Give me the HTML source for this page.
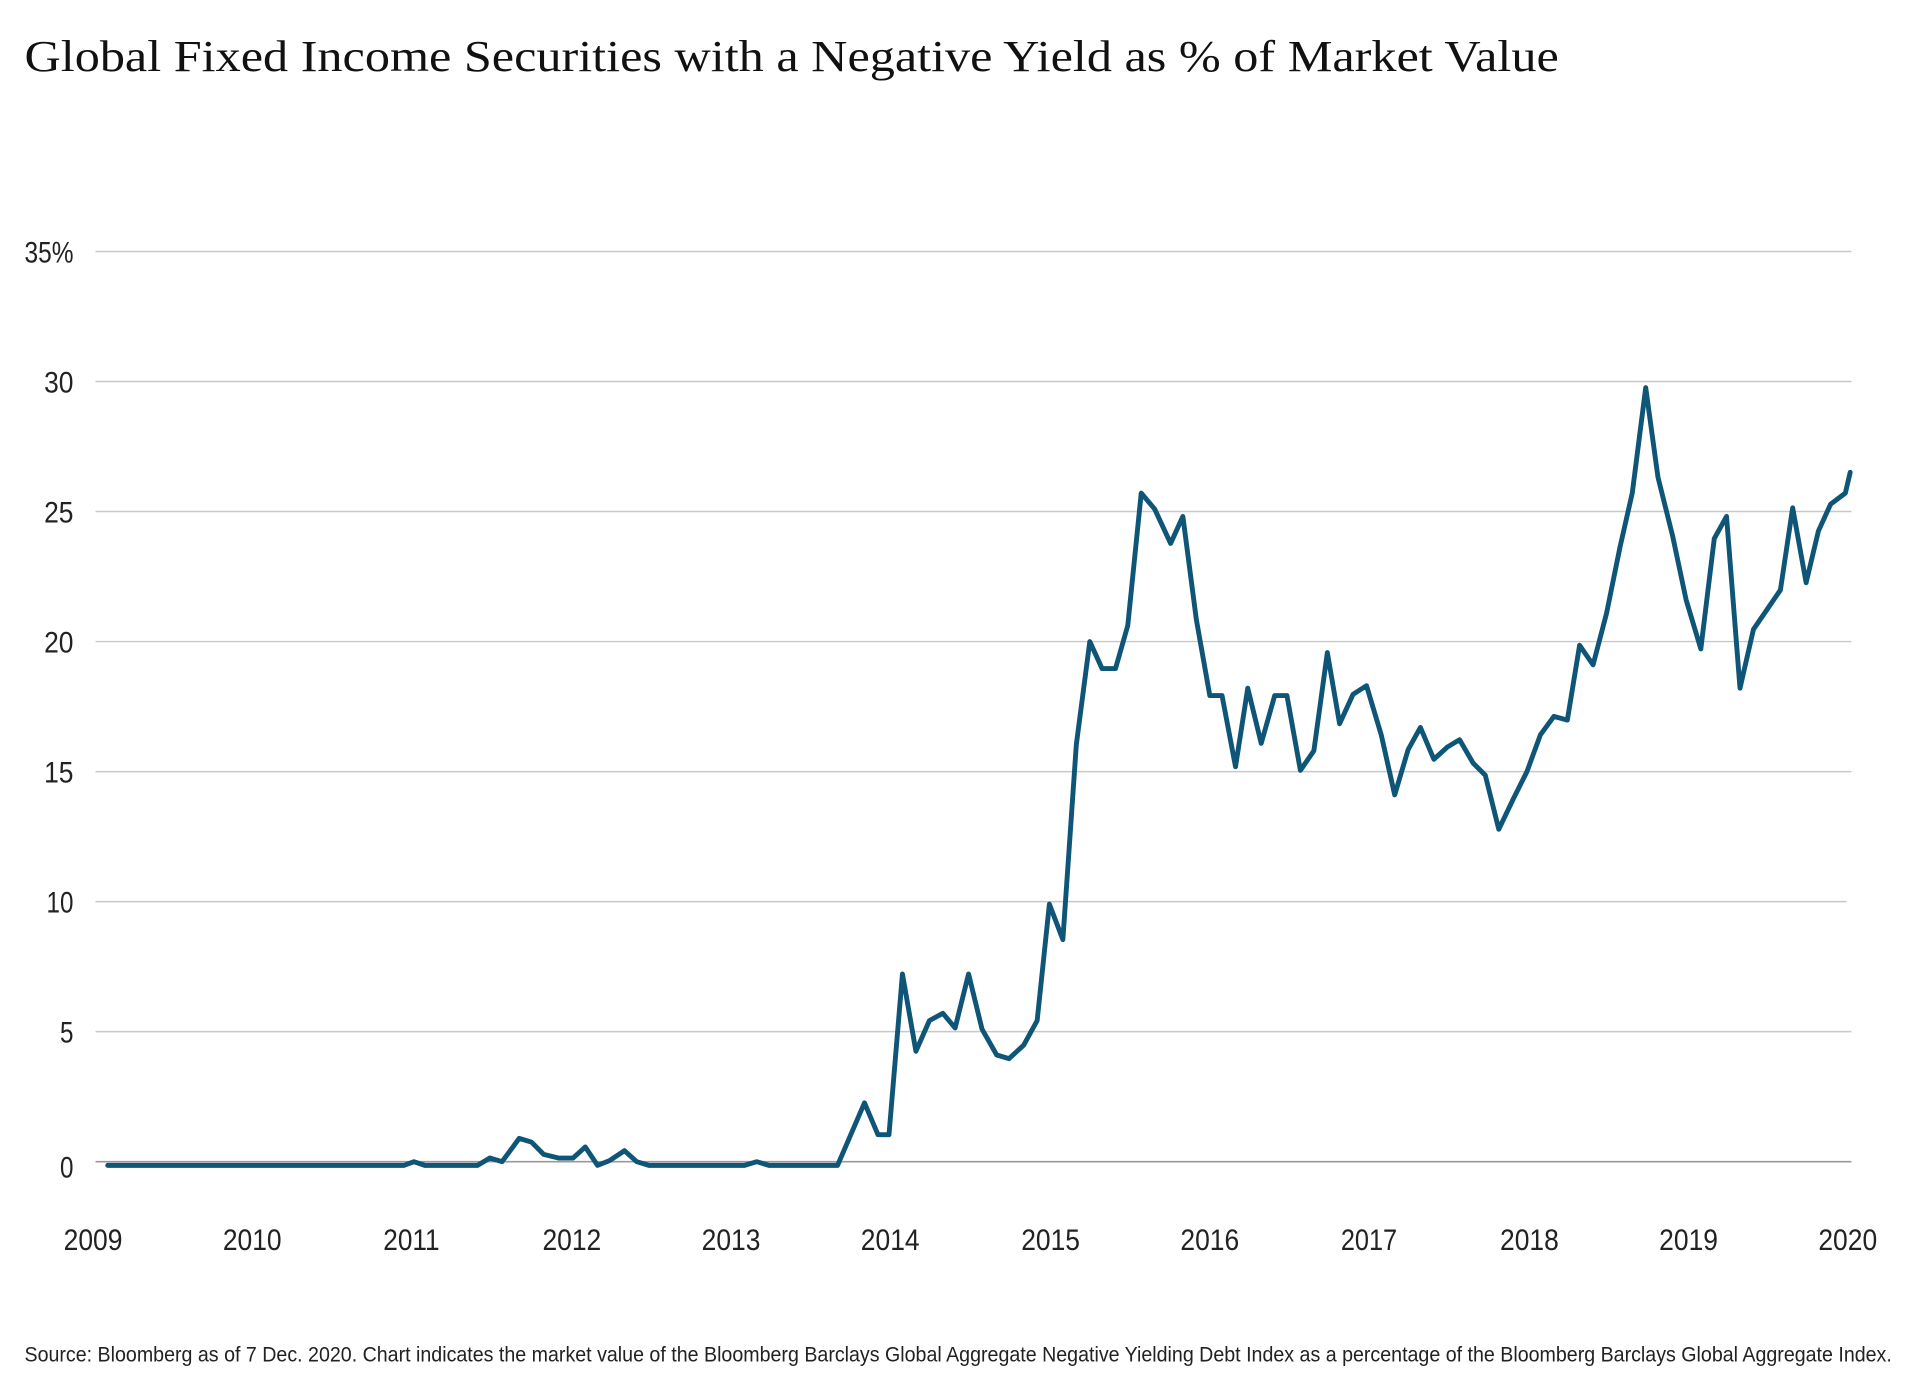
<!DOCTYPE html>
<html><head><meta charset="utf-8"><style>
html,body{margin:0;padding:0;background:#fff;}
svg{display:block;}
.t{font-family:"Liberation Sans",sans-serif;fill:#222;}
</style></head><body>
<svg width="1920" height="1396" viewBox="0 0 1568 1138" preserveAspectRatio="none" xmlns="http://www.w3.org/2000/svg">
<rect width="1568" height="1138" fill="#fff"/>
<text x="20" y="58" font-family="Liberation Serif,serif" font-size="36" fill="#111" textLength="1253" lengthAdjust="spacingAndGlyphs">Global Fixed Income Securities with a Negative Yield as % of Market Value</text>
<g stroke="#c8c8c8" stroke-width="1.2">
<line x1="78" y1="205" x2="1512" y2="205"/>
<line x1="78" y1="311" x2="1512" y2="311"/>
<line x1="78" y1="417" x2="1512" y2="417"/>
<line x1="78" y1="523" x2="1512" y2="523"/>
<line x1="78" y1="629" x2="1512" y2="629"/>
<line x1="78" y1="735" x2="1508" y2="735"/>
<line x1="78" y1="841" x2="1512" y2="841"/>
</g>
<line x1="78" y1="947" x2="1512" y2="947" stroke="#999" stroke-width="1.4"/>
<g class="t" font-size="24" text-anchor="end">
<text x="60" y="214" textLength="40" lengthAdjust="spacingAndGlyphs">35%</text>
<text x="60" y="320" textLength="24" lengthAdjust="spacingAndGlyphs">30</text>
<text x="60" y="426" textLength="24" lengthAdjust="spacingAndGlyphs">25</text>
<text x="60" y="532" textLength="24" lengthAdjust="spacingAndGlyphs">20</text>
<text x="60" y="638" textLength="24" lengthAdjust="spacingAndGlyphs">15</text>
<text x="60" y="744" textLength="22" lengthAdjust="spacingAndGlyphs">10</text>
<text x="60" y="850" textLength="11" lengthAdjust="spacingAndGlyphs">5</text>
<text x="60" y="960" textLength="11" lengthAdjust="spacingAndGlyphs">0</text>
</g>
<g class="t" font-size="24" text-anchor="middle">
<text x="76" y="1019" textLength="48" lengthAdjust="spacingAndGlyphs">2009</text>
<text x="206" y="1019" textLength="48" lengthAdjust="spacingAndGlyphs">2010</text>
<text x="336" y="1019" textLength="46" lengthAdjust="spacingAndGlyphs">2011</text>
<text x="467" y="1019" textLength="48" lengthAdjust="spacingAndGlyphs">2012</text>
<text x="597" y="1019" textLength="48" lengthAdjust="spacingAndGlyphs">2013</text>
<text x="727" y="1019" textLength="48" lengthAdjust="spacingAndGlyphs">2014</text>
<text x="858" y="1019" textLength="48" lengthAdjust="spacingAndGlyphs">2015</text>
<text x="988" y="1019" textLength="48" lengthAdjust="spacingAndGlyphs">2016</text>
<text x="1118" y="1019" textLength="46" lengthAdjust="spacingAndGlyphs">2017</text>
<text x="1249" y="1019" textLength="48" lengthAdjust="spacingAndGlyphs">2018</text>
<text x="1379" y="1019" textLength="48" lengthAdjust="spacingAndGlyphs">2019</text>
<text x="1509" y="1019" textLength="48" lengthAdjust="spacingAndGlyphs">2020</text>
</g>
<text class="t" x="20" y="1110" font-size="17" textLength="1525" lengthAdjust="spacingAndGlyphs">Source: Bloomberg as of 7 Dec. 2020. Chart indicates the market value of the Bloomberg Barclays Global Aggregate Negative Yielding Debt Index as a percentage of the Bloomberg Barclays Global Aggregate Index.</text>
<polyline fill="none" stroke="#0e5577" stroke-width="4" stroke-linejoin="round" stroke-linecap="round" points="88,950 330,950 338,947 347,950 390,950 400,944 410,947 424,928 434,931 444,941 456,944 468,944 478,935 488,950 498,946 510,938 520,947 530,950 608,950 618,947 628,950 684,950 706,899 717,925 726,925 737,794 748,857 759,832 770,826 780,838 791,794 802,839 814,860 824,863 836,852 847,832 857,737 868,766 879,607 890,523 900,545 911,545 921,510 932,402 943,415 956,443 966,421 977,505 988,567 998,567 1009,625 1019,561 1030,606 1041,567 1051,567 1062,628 1073,612 1084,532 1094,590 1105,566 1116,559 1128,599 1139,648 1150,611 1160,593 1171,619 1182,609 1192,603 1203,622 1213,632 1224,676 1236,651 1247,629 1258,599 1269,584 1280,587 1290,526 1301,542 1312,500 1323,446 1333,402 1344,316 1354,389 1366,437 1377,489 1389,529 1400,439 1410,421 1421,561 1432,513 1443,497 1454,481 1464,414 1475,475 1485,433 1495,411 1507,402 1511,385"/>
</svg>
</body></html>
